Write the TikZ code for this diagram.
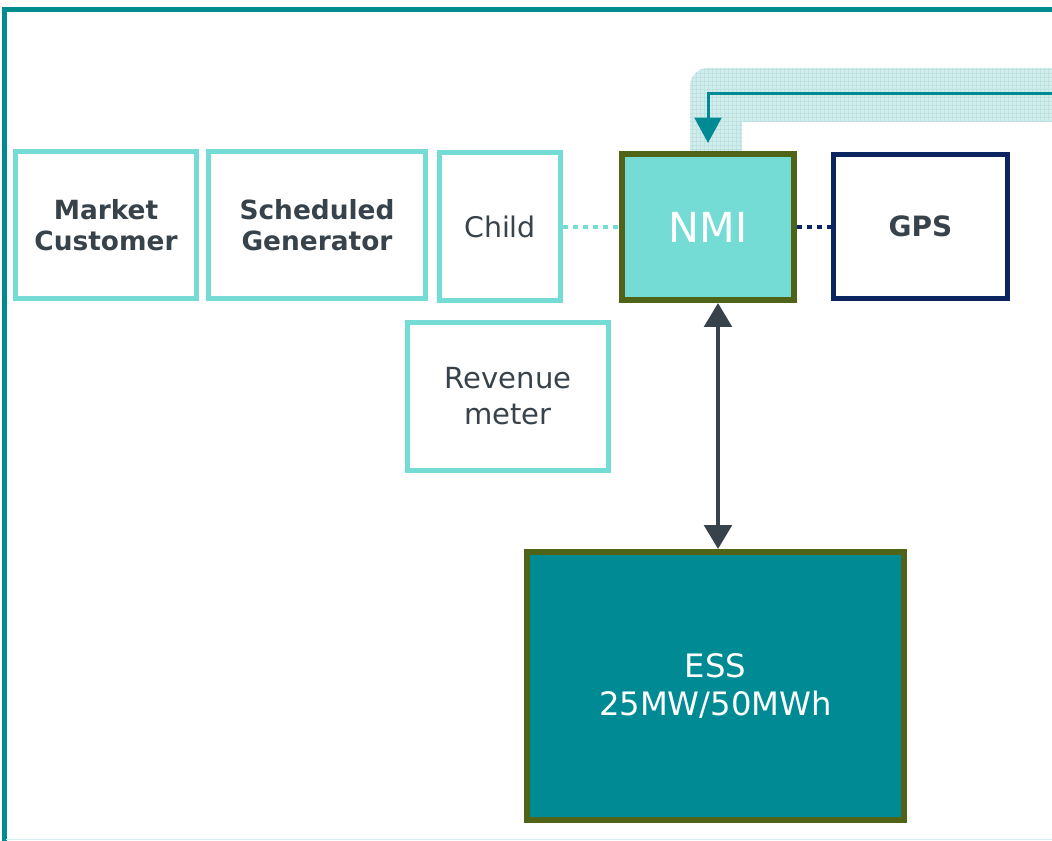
\documentclass[tikz,border=0pt]{standalone}
\usepackage{fontspec}
\setmainfont{DejaVu Sans}
\usetikzlibrary{arrows.meta,patterns}

\definecolor{frameteal}{RGB}{0,139,143}
\definecolor{lightteal}{RGB}{116,220,212}
\definecolor{darktext}{RGB}{55,66,74}
\definecolor{olive}{RGB}{79,100,24}
\definecolor{navy}{RGB}{11,37,96}
\definecolor{essteal}{RGB}{0,139,148}
\definecolor{bandfill}{RGB}{210,236,235}
\definecolor{bandgrid}{RGB}{190,226,225}
\definecolor{paleline}{RGB}{210,238,238}

\newcommand{\fsz}[2]{\fontsize{#1pt}{#2pt}\selectfont}

\begin{document}
\begin{tikzpicture}[x=0.75pt,y=-0.75pt,
  lightbox/.style={draw=lightteal, line width=3.75pt, rectangle, inner sep=0pt,
    align=center, text=darktext},
  nmibox/.style={draw=olive, fill=lightteal, line width=4.5pt, rectangle,
    inner sep=0pt, align=center, text=white},
  gpsbox/.style={draw=navy, line width=3.75pt, rectangle, inner sep=0pt,
    align=center, text=darktext},
  essbox/.style={draw=olive, fill=essteal, line width=4.5pt, rectangle,
    inner sep=0pt, align=center, text=white},
  dotlink/.style={line width=3pt, dash pattern=on 4pt off 3.5pt},
  feedline/.style={draw=essteal, line width=2.25pt,
    -{Triangle[width=20pt,length=19pt]}},
  biarrow/.style={draw=darktext, line width=3.5pt,
    {Triangle[width=20.5pt,length=18pt]}-{Triangle[width=20.5pt,length=18pt]}}
]
\useasboundingbox (0,0) rectangle (1052,841);

% shaded band behind the feed-in line
\def\bandpath{(690,151) -- (690,86) arc[start angle=180, end angle=270, radius=18]
  -- (1070,68) -- (1070,122) -- (742,122) -- (742,151) -- cycle}
\fill[bandfill] \bandpath;
\fill[pattern=grid, pattern color=bandgrid] \bandpath;

% outer frame
\draw[frameteal, line width=3.75pt] (1070,9.5) -- (4.5,9.5) -- (4.5,850);
\draw[paleline, line width=1.2pt] (6,839.5) -- (1070,839.5);

% boxes
\node[lightbox, minimum width=135.75pt, minimum height=110.25pt,
  font=\bfseries\fsz{19.8}{23.5}] (mc) at (106,225) {Market\\Customer};
\node[lightbox, minimum width=162.75pt, minimum height=110.25pt,
  font=\bfseries\fsz{19.8}{23.5}] (sg) at (317,225) {Scheduled\\Generator};
\node[lightbox, minimum width=90.75pt, minimum height=111pt,
  font=\fsz{21.3}{26}] (child) at (500,227) {Child};
\node[lightbox, minimum width=150.75pt, minimum height=111pt,
  font=\fsz{21.8}{27}] (rm) at (508,396.5) {Revenue\\meter};
\node[nmibox, minimum width=129pt, minimum height=109.5pt,
  font=\fsz{31}{36}] (NMI) at (708,227) {NMI};
\node[gpsbox, minimum width=130.5pt, minimum height=108pt,
  font=\bfseries\fsz{21}{25}] (gps) at (920.5,226.5) {GPS};
\node[essbox, minimum width=282.75pt, minimum height=201pt,
  font=\fsz{24.2}{28}] (ess) at (715.5,686) {ESS\\25MW/50MWh};

% connectors
\coordinate (feed) at (1070,94);
\draw[feedline, shorten >=6pt] (feed) -- (feed -| NMI.north) -- (NMI.north);
\draw[dotlink, lightteal] (child.east) -- (child.east -| NMI.west);
\draw[dotlink, navy] (NMI.east) -- (NMI.east -| gps.west);
\draw[biarrow] ([xshift=7.5pt]NMI.south) -- ([xshift=7.5pt]NMI.south |- ess.north);
\end{tikzpicture}
\end{document}
